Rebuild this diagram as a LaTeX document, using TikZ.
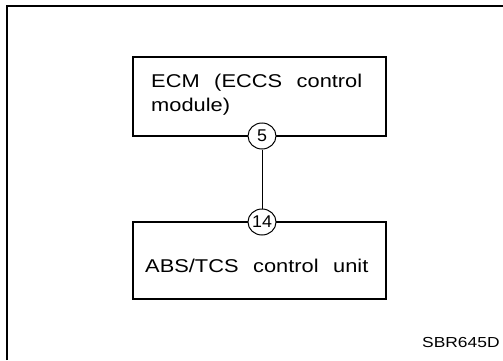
\documentclass[tikz,border=0pt]{standalone}
\usepackage{fontspec}
\setmainfont{Liberation Sans}[WordSpace={2.4}]
\usetikzlibrary{shapes.geometric}
\begin{document}
\begin{tikzpicture}[x=1pt,y=1pt,
 box/.style={draw, line width=1.4pt, minimum width=253pt, minimum height=79pt, inner sep=0pt},
 pin/.style={draw, ellipse, fill=white, line width=1pt, minimum width=28pt, minimum height=26pt, inner sep=0pt, font=\fontsize{17}{17}\selectfont},
 lbl/.style={anchor=base west, inner sep=0pt, font=\fontsize{18.5}{20}\selectfont},
 wire/.style={line width=0.9pt}]
\useasboundingbox (0,0) rectangle (503,360);
\draw[line width=1.8pt] (7,0) -- (7,354) -- (503,354);
\node[box] (ecm) at (259.5,263.5) {};
\node[box, minimum height=77pt] (abs) at (259.5,99.5) {};
\node[lbl] (t1) at (151,273) {\scalebox{1.18}[1]{ECM (ECCS control}};
\node[lbl] (t2) at (151,249) {\scalebox{1.18}[1]{module)}};
\node[lbl] (t3) at (145,88) {\scalebox{1.18}[1]{ABS/TCS control unit}};
\node[pin] (p5) at (262,224) {\scalebox{1.05}[1]{5}};
\node[pin] (p14) at (262,138) {\scalebox{1.05}[1]{14}};
\draw[wire] (p5) -- (p14);
\node[anchor=base west, inner sep=0pt, font=\fontsize{14.5}{16}\selectfont] (code) at (422,13) {\scalebox{1.2}[1]{SBR645D}};
\end{tikzpicture}
\end{document}
